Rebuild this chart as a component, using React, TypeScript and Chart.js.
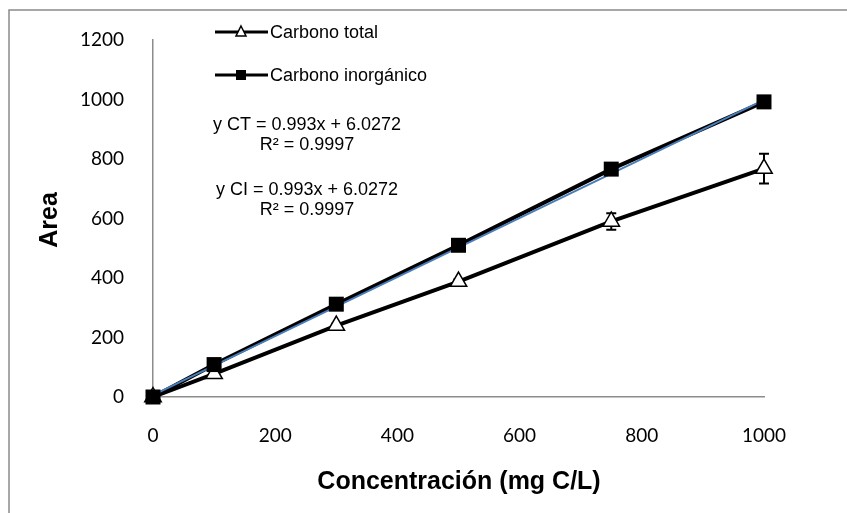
import React, { useEffect, useRef } from "react";
import { Chart, registerables } from "chart.js";

Chart.register(...registerables);

// ---- data ----
const concentrations = [0, 100, 300, 500, 750, 1000];
const carbonoTotal = [0, 78, 240, 388, 590, 768];
const carbonoTotalErr = [0, 4, 6, 8, 28, 50];
const carbonoInorganico = [0, 109, 312, 510, 766, 992];
const trendX = [0, 1000];
const trendY = [6.03, 999.03];
const xTicks = [0, 200, 400, 600, 800, 1000];
const yTicks = [0, 200, 400, 600, 800, 1000, 1200];
const legendLabels = ["Carbono total", "Carbono inorgánico"];
const equations = ["y CT = 0.993x + 6.0272", "R² = 0.9997", "y CI = 0.993x + 6.0272", "R² = 0.9997"];
const xTitle = "Concentración (mg C/L)";
const yTitle = "Area";

const W = 847;
const H = 513;

const decor = {
  id: "decor",
  beforeDraw(chart: any) {
    const { ctx } = chart;
    ctx.save();
    ctx.fillStyle = "#ffffff";
    ctx.fillRect(0, 0, W, H);
    ctx.restore();
  },
  beforeDatasetsDraw(chart: any) {
    const { ctx } = chart;
    const xs = chart.scales.x;
    const ys = chart.scales.y;
    ctx.save();
    ctx.strokeStyle = "#000000";
    ctx.lineWidth = 2;
    for (let i = 0; i < concentrations.length; i++) {
      const e = carbonoTotalErr[i];
      if (!e) continue;
      const px = xs.getPixelForValue(concentrations[i]);
      const top = ys.getPixelForValue(carbonoTotal[i] + e);
      const bot = ys.getPixelForValue(carbonoTotal[i] - e);
      ctx.beginPath();
      ctx.moveTo(px, top);
      ctx.lineTo(px, bot);
      ctx.moveTo(px - 5, top);
      ctx.lineTo(px + 5, top);
      ctx.moveTo(px - 5, bot);
      ctx.lineTo(px + 5, bot);
      ctx.stroke();
    }
    ctx.restore();
  },
  afterDraw(chart: any) {
    const { ctx } = chart;
    ctx.save();
    // frame
    ctx.strokeStyle = "#8a8a8a";
    ctx.lineWidth = 1.5;
    ctx.beginPath();
    ctx.moveTo(9, H);
    ctx.lineTo(9, 10);
    ctx.lineTo(W, 10);
    ctx.stroke();

    // legend
    const ly = [32, 75];
    ctx.font = "18px 'Liberation Sans', Arial, sans-serif";
    ctx.textBaseline = "middle";
    ctx.textAlign = "left";
    for (let i = 0; i < 2; i++) {
      const y = ly[i];
      ctx.strokeStyle = "#000";
      ctx.lineWidth = 3;
      ctx.beginPath();
      ctx.moveTo(215, y);
      ctx.lineTo(268, y);
      ctx.stroke();
      if (i === 0) {
        ctx.fillStyle = "#fff";
        ctx.lineWidth = 1.5;
        ctx.beginPath();
        ctx.moveTo(241, y - 6);
        ctx.lineTo(246, y + 4);
        ctx.lineTo(236, y + 4);
        ctx.closePath();
        ctx.fill();
        ctx.stroke();
      } else {
        ctx.fillStyle = "#000";
        ctx.fillRect(236, y - 5, 10, 10);
      }
      ctx.fillStyle = "#000";
      ctx.fillText(legendLabels[i], 270, y + 1);
    }

    // equations
    ctx.font = "18px 'Liberation Sans', Arial, sans-serif";
    ctx.textAlign = "center";
    const ey = [125, 145, 190, 210];
    for (let i = 0; i < equations.length; i++) {
      ctx.fillText(equations[i], 307, ey[i]);
    }

    // axis titles
    ctx.font = "bold 25px 'Liberation Sans', Arial, sans-serif";
    ctx.textAlign = "center";
    ctx.fillText(xTitle, 459, 482);
    ctx.translate(50, 220);
    ctx.rotate(-Math.PI / 2);
    ctx.fillText(yTitle, 0, 0);
    ctx.restore();
  },
};

export default function App() {
  const ref = useRef<HTMLCanvasElement>(null);
  useEffect(() => {
    document.body.style.margin = "0";
    const canvas = ref.current!;
    const pts = (xs: number[], ys: number[]) => xs.map((x, i) => ({ x, y: ys[i] }));
    const chart = new Chart(canvas, {
      type: "scatter",
      data: {
        datasets: [
          {
            label: "CI markers",
            data: pts(concentrations, carbonoInorganico),
            showLine: false,
            pointStyle: "rect",
            pointRadius: 10.6,
            pointBackgroundColor: "#000",
            pointBorderColor: "#000",
            pointBorderWidth: 0,
            clip: false,
          },
          {
            label: "trend",
            data: pts(trendX, trendY),
            showLine: true,
            borderColor: "#4A7EBB",
            borderWidth: 2,
            pointRadius: 0,
            clip: false,
          },
          {
            label: legendLabels[1],
            data: pts(concentrations, carbonoInorganico),
            showLine: true,
            borderColor: "#000",
            borderWidth: 4,
            pointRadius: 0,
            clip: false,
          },
          {
            label: legendLabels[0],
            data: pts(concentrations, carbonoTotal),
            showLine: true,
            borderColor: "#000",
            borderWidth: 4,
            pointStyle: "triangle",
            pointRadius: 9.5,
            pointBackgroundColor: "#fff",
            pointBorderColor: "#000",
            pointBorderWidth: 1.5,
            clip: false,
          },
        ],
      },
      options: {
        responsive: false,
        animation: false,
        events: [],
        layout: { padding: { left: 0, top: 40, right: W - 764, bottom: 0 } },
        plugins: { legend: { display: false }, tooltip: { enabled: false } },
        scales: {
          x: {
            type: "linear",
            min: 0,
            max: 1000,
            afterBuildTicks: (s: any) => {
              s.ticks = xTicks.map((v) => ({ value: v }));
            },
            afterFit: (s: any) => {
              s.height = H - 397;
            },
            grid: { display: false },
            border: { display: true, color: "#8c8c8c", width: 1.5 },
            ticks: {
              font: { family: "Lato", size: 19 },
              color: "#000",
              padding: 19,
              maxRotation: 0,
              callback: (v: any) => String(v),
            },
          },
          y: {
            type: "linear",
            min: 0,
            max: 1200,
            afterBuildTicks: (s: any) => {
              s.ticks = yTicks.map((v) => ({ value: v }));
            },
            afterFit: (s: any) => {
              s.width = 153;
            },
            grid: { display: false },
            border: { display: true, color: "#8c8c8c", width: 1.5 },
            ticks: {
              font: { family: "Lato", size: 19 },
              color: "#000",
              padding: 21,
              callback: (v: any) => String(v),
            },
          },
        },
      },
      plugins: [decor],
    });
    return () => chart.destroy();
  }, []);
  return (
    <div style={{ width: W, height: H }}>
      <canvas ref={ref} width={W} height={H} style={{ display: "block" }} />
    </div>
  );
}
